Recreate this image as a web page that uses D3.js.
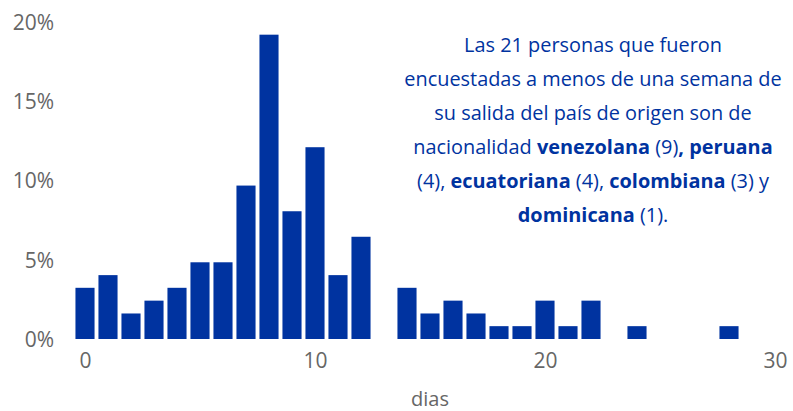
<!DOCTYPE html>
<html><head><meta charset="utf-8">
<script src="https://cdn.jsdelivr.net/npm/d3@7"></script>
<style>
html,body{margin:0;padding:0;background:#fff;}
svg{display:block;font-family:"Open Sans",sans-serif;}
</style></head>
<body>
<svg id="c" width="793" height="411"></svg>
<script>
const days = [0,1,2,3,4,5,6,7,8,9,10,11,12,13,14,15,16,17,18,19,20,21,22,23,24,25,26,27,28];
const shares = [3.23,4.03,1.61,2.42,3.23,4.84,4.84,9.68,19.2,8.06,12.1,4.03,6.45,0,3.23,1.61,2.42,1.61,0.81,0.81,2.42,0.81,2.42,0,0.81,0,0,0,0.81];
const yTicks = [0,5,10,15,20];
const xTicks = [0,10,20,30];
const xTitle = "dias";
const noteLines = [
  [["Las 21 personas que fueron", false]],
  [["encuestadas a menos de una semana de", false]],
  [["su salida del país de origen son de", false]],
  [["nacionalidad ", false],["venezolana", true],[" (9)", false],[", peruana", true]],
  [["(4), ", false],["ecuatoriana", true],[" (4), ", false],["colombiana", true],[" (3) y", false]],
  [["dominicana", true],[" (1).", false]]
];

const blue = "#0033A0", grey = "#666666";
const svg = d3.select("#c");
const x = d3.scaleLinear().domain([0,30]).range([85,775]);
const y = d3.scaleLinear().domain([0,20]).range([339,22]);
const bw = (x(1)-x(0))*0.83;

svg.append("g").selectAll("rect").data(days.map((d,i)=>({d,v:shares[i]})).filter(o=>o.v>0))
  .join("rect")
  .attr("x", o=>x(o.d)-bw/2).attr("width", bw)
  .attr("y", o=>y(o.v)).attr("height", o=>y(0)-y(o.v))
  .attr("fill", blue);

const yAxis = svg.append("g").attr("transform","translate(54,0)")
  .call(d3.axisLeft(y).tickValues(yTicks).tickSize(0).tickPadding(0).tickFormat(d=>d+"%"));
yAxis.select(".domain").remove();
yAxis.selectAll("text").attr("font-size",21).attr("fill",grey).attr("font-family","Open Sans, sans-serif").attr("dy","0.35em");

const xAxis = svg.append("g").attr("transform","translate(0,353)")
  .call(d3.axisBottom(x).tickValues(xTicks).tickSize(0).tickPadding(0).tickFormat(d3.format("d")));
xAxis.select(".domain").remove();
xAxis.selectAll("text").attr("font-size",21).attr("fill",grey).attr("font-family","Open Sans, sans-serif");

svg.append("text").attr("x",430).attr("y",406).attr("text-anchor","middle")
  .attr("font-size",20).attr("fill",grey).text(xTitle);

const note = svg.append("g");
noteLines.forEach((segs,i)=>{
  const t = note.append("text").attr("x",593).attr("y",51.5+i*34).attr("text-anchor","middle")
    .attr("font-size",19.9).attr("fill",blue);
  segs.forEach(([s,b])=>{
    t.append("tspan").attr("font-weight", b?700:400).text(s);
  });
});
</script>
</body></html>
